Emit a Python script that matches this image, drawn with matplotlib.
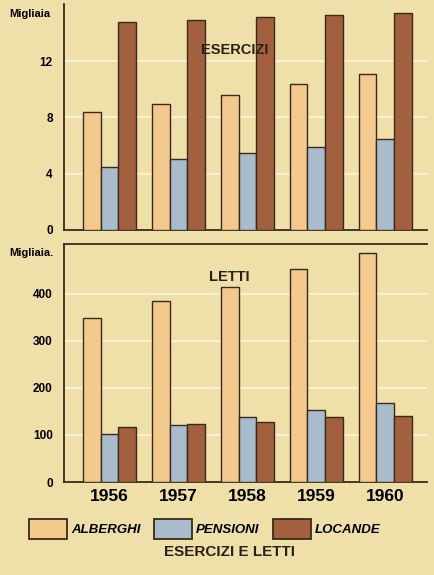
import matplotlib
matplotlib.use('Agg')
import matplotlib.pyplot as plt
import matplotlib.patches as mpatches
import numpy as np

# dati (migliaia)
anni = ['1956', '1957', '1958', '1959', '1960']
serie = ['ALBERGHI', 'PENSIONI', 'LOCANDE']
esercizi_alberghi = [8.4, 8.95, 9.6, 10.35, 11.1]
esercizi_pensioni = [4.5, 5.05, 5.5, 5.9, 6.45]
esercizi_locande = [14.8, 14.9, 15.15, 15.3, 15.4]
letti_alberghi = [349, 384, 413, 451, 486]
letti_pensioni = [102, 121, 139, 152, 167]
letti_locande = [116, 123, 128, 137, 141]

bg = '#eee0a8'
colori = ['#f3c98e', '#a9bccb', '#a2603e']
edge = '#3a2a1c'

plt.rcParams['font.family'] = ['Liberation Sans', 'DejaVu Sans']
fig = plt.figure(figsize=(4.35, 5.75), dpi=100, facecolor=bg)

ax1 = fig.add_axes([0.147, 0.600, 0.835, 0.393])
ax2 = fig.add_axes([0.147, 0.1617, 0.835, 0.4131])

x = np.arange(len(anni))
w = 0.256

def disegna(ax, valori, ymax, ticks):
    ax.set_facecolor(bg)
    for i, (v, c) in enumerate(zip(valori, colori)):
        ax.bar(x + (i - 1) * w, v, width=w, color=c, edgecolor=edge, linewidth=1.0, zorder=3)
    ax.set_xlim(-0.664, 4.61)
    ax.set_ylim(0, ymax)
    ax.set_yticks(ticks)
    for t in ticks[1:]:
        ax.axhline(t, color='#f8f0d4', linewidth=1.6, zorder=1)
    ax.tick_params(axis='y', length=0, pad=8, labelsize=8.5)
    for lab in ax.get_yticklabels():
        lab.set_fontweight('bold')
    ax.spines['right'].set_visible(False)
    for s in ['left', 'bottom', 'top']:
        ax.spines[s].set_color(edge)
        ax.spines[s].set_linewidth(1.3)

disegna(ax1, [esercizi_alberghi, esercizi_pensioni, esercizi_locande], 16.05, [0, 4, 8, 12])
ax1.spines['top'].set_visible(False)
ax1.set_xticks([])
ax1.text(0.471, 0.796, 'ESERCIZI', transform=ax1.transAxes, ha='center', va='center',
         fontsize=10.5, fontweight='bold', color='#2a2018')

disegna(ax2, [letti_alberghi, letti_pensioni, letti_locande], 504, [0, 100, 200, 300, 400])
ax2.set_xticks(x)
ax2.set_xticklabels(anni, fontsize=12.5, fontweight='bold')
ax2.tick_params(axis='x', length=0, pad=5)
ax2.text(0.455, 0.864, 'LETTI', transform=ax2.transAxes, ha='center', va='center',
         fontsize=10.5, fontweight='bold', color='#2a2018')

fig.text(0.022, 0.975, 'Migliaia', fontsize=8, fontweight='bold', ha='left', va='center')
fig.text(0.022, 0.560, 'Migliaia.', fontsize=8, fontweight='bold', ha='left', va='center')

handles = [mpatches.Patch(facecolor=c, edgecolor=edge, linewidth=1.3) for c in colori]
leg = fig.legend(handles, serie, loc='center', bbox_to_anchor=(0.471, 0.080), ncol=3,
                 frameon=False, handlelength=2.9, handleheight=1.9, handletextpad=0.3,
                 columnspacing=1.0, prop={'weight': 'bold', 'style': 'italic', 'size': 9.5})

fig.text(0.527, 0.040, 'ESERCIZI E LETTI', ha='center', va='center', fontsize=11,
         fontweight='bold', color='#2a2018')

fig.savefig('out.png', dpi=100, facecolor=bg)
